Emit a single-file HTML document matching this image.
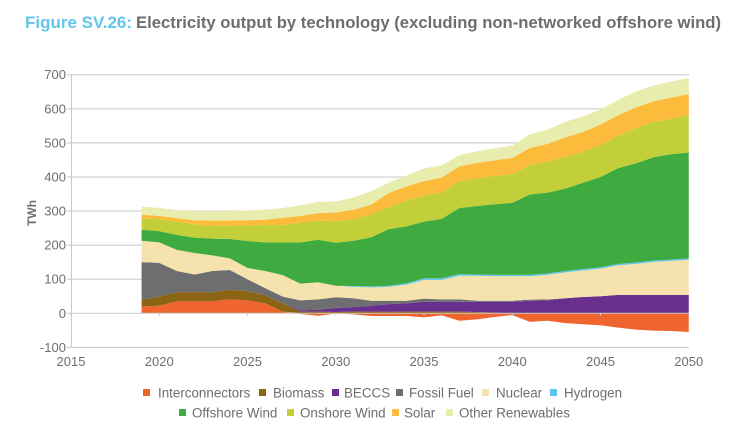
<!DOCTYPE html>
<html>
<head>
<meta charset="utf-8">
<title>Electricity output by technology</title>
<style>
html,body{margin:0;padding:0;background:#fff;width:732px;height:431px;overflow:hidden}
svg{display:block;font-family:"Liberation Sans",Arial,sans-serif}
</style>
</head>
<body>
<svg id="chart" width="732" height="431" viewBox="0 0 732 431">
  <text x="25" y="28" font-size="16.5" font-weight="bold" fill="#62c5ea" textLength="107" lengthAdjust="spacingAndGlyphs">Figure SV.26:</text>
  <text x="136" y="28" font-size="16.5" font-weight="bold" fill="#6d6e70" textLength="585" lengthAdjust="spacingAndGlyphs">Electricity output by technology (excluding non-networked offshore wind)</text>
  <text transform="translate(36,213) rotate(-90)" text-anchor="middle" font-size="12" font-weight="bold" fill="#6d6e70">TWh</text>
  <g id="grid"></g>
  <g id="areas"></g>
  <g id="axes"></g>
  <g id="legend"></g>
</svg>
<script>
const years = [2019,2020,2021,2022,2023,2024,2025,2026,2027,2028,2029,2030,2031,2032,2033,2034,2035,2036,2037,2038,2039,2040,2041,2042,2043,2044,2045,2046,2047,2048,2049,2050];
const yTicks = [-100,0,100,200,300,400,500,600,700];
const xTicks = [2015,2020,2025,2030,2035,2040,2045,2050];

const interconnectors = [20,22,35,35,35,41,38,29,5,-2,-7,-1,-3,-8,-8,-8,-12,-6,-22,-18,-11,-5,-25,-22,-29,-32,-35,-42,-48,-51,-52,-55];
const biomass = [20,27,27,27,27,28,27,24,24,5,5,4,5,5,5,5,5,5,5,4,2,0,0,0,0,0,0,0,0,0,0,0];
const beccs = [0,0,0,0,0,0,0,0,0,4,5,12,13,17,22,24,29,29,29,30,32,34,37,38,44,48,50,54,54,54,54,54];
const fossilFuel = [110,99,62,52,62,58,35,21,20,29,31,31,26,15,10,8,9,7,7,3,3,3,3,3,0,0,0,0,0,0,0,0];
const nuclear = [63,60,62,63,46,34,33,50,63,49,50,34,34,39,41,47,55,57,69,73,72,72,69,72,76,78,81,87,91,97,100,103];
const hydrogen = [0,0,0,0,0,0,0,0,0,0,0,0,2,3,3,4,5,5,5,4,4,4,4,4,4,4,4,4,4,4,4,4];
const offshoreWind = [32,33,44,45,49,57,79,84,96,121,125,126,133,144,166,167,166,174,194,201,207,211,236,237,242,253,265,281,291,303,309,311];
const onshoreWind = [33,35,39,39,38,39,46,51,51,57,56,63,63,67,65,76,77,77,79,81,83,84,87,91,93,91,93,95,103,104,103,109];
const solar = [11,10,10,12,15,15,15,16,21,21,22,26,28,29,41,41,42,44,43,45,46,48,49,52,57,58,61,60,61,60,63,62];
const otherRenewables = [24,23,24,27,28,28,29,29,29,31,33,32,36,39,30,32,37,36,33,34,35,36,40,42,46,45,44,45,47,46,47,47];

const seriesNames = ["Interconnectors","Biomass","BECCS","Fossil Fuel","Nuclear","Hydrogen","Offshore Wind","Onshore Wind","Solar","Other Renewables"];
const seriesValues = [interconnectors,biomass,beccs,fossilFuel,nuclear,hydrogen,offshoreWind,onshoreWind,solar,otherRenewables];
const seriesColors = ["#f0652f","#8b6414","#682f8e","#6d6e70","#f5e2ac","#5cc6ee","#3eaa40","#c2cf38","#fdbb3b","#e8ecac"];

const NS = "http://www.w3.org/2000/svg";
const xScale = function(y){ return 71 + (y - 2015) * 17.65; };
const yScale = function(v){ return 313.3 - v * 0.3408; };

function make(tag, attrs, parent, text){
  const el = document.createElementNS(NS, tag);
  for (const k in attrs) el.setAttribute(k, attrs[k]);
  if (text !== undefined) el.textContent = text;
  parent.appendChild(el);
  return el;
}
const grid = document.getElementById("grid");
const axes = document.getElementById("axes");
const areas = document.getElementById("areas");
const legend = document.getElementById("legend");

yTicks.forEach(function(t){
  const line = make("line", {x1:67, x2:689, y1:yScale(t), y2:yScale(t), stroke:"#c9c9c9", "stroke-width":1}, t === 0 ? axes : grid);
  
  
  const label = make("text", {x:66, y:yScale(t)+4.5, "text-anchor":"end", "font-size":13, fill:"#6d6e70"}, axes, String(t));
  
  
});
const yAxis = make("line", {x1:71.5, x2:71.5, y1:yScale(700), y2:yScale(-100), stroke:"#c9c9c9", "stroke-width":1}, axes);



xTicks.forEach(function(t){
  const tick = make("line", {x1:xScale(t), x2:xScale(t), y1:yScale(0), y2:yScale(0)+2.5, stroke:"#c9c9c9", "stroke-width":1}, axes);
  
  
  const label = make("text", {x:xScale(t), y:366, "text-anchor":"middle", "font-size":13, fill:"#6d6e70"}, axes, String(t));
  
  
});

const posBase = years.map(function(){ return 0; });
const negBase = years.map(function(){ return 0; });
seriesValues.forEach(function(vals, s){
  const top = [];
  const bottom = [];
  vals.forEach(function(v, i){
    if (v >= 0) {
      bottom.push(posBase[i]);
      posBase[i] += v;
      top.push(posBase[i]);
    } else {
      bottom.push(negBase[i]);
      negBase[i] += v;
      top.push(negBase[i]);
    }
  });
  let d = "";
  years.forEach(function(y, i){
    d += (i ? "L" : "M") + xScale(y).toFixed(2) + " " + yScale(top[i]).toFixed(2);
  });
  for (let i = years.length - 1; i >= 0; i--) {
    d += "L" + xScale(years[i]).toFixed(2) + " " + yScale(bottom[i]).toFixed(2);
  }
  d += "Z";
  const area = make("path", {d:d, fill:seriesColors[s]}, areas);
  
  
});

const legendRows = [0,0,0,0,0,0,1,1,1,1];
const legendMarkerX = [143,259,332,396,482,550,179,287,392,446];
const legendTextX = [158,273,344,409,496,564,192,300,404,459];
seriesNames.forEach(function(name, s){
  const rowY = legendRows[s] ? 413 : 393;
  const marker = make("rect", {x:legendMarkerX[s], y:rowY-4, width:7, height:7, fill:seriesColors[s]}, legend);
  
  
  const label = make("text", {x:legendTextX[s], y:rowY+4.5, "font-size":13.4, fill:"#6d6e70"}, legend, name);
  
  
});
</script>
</body>
</html>
